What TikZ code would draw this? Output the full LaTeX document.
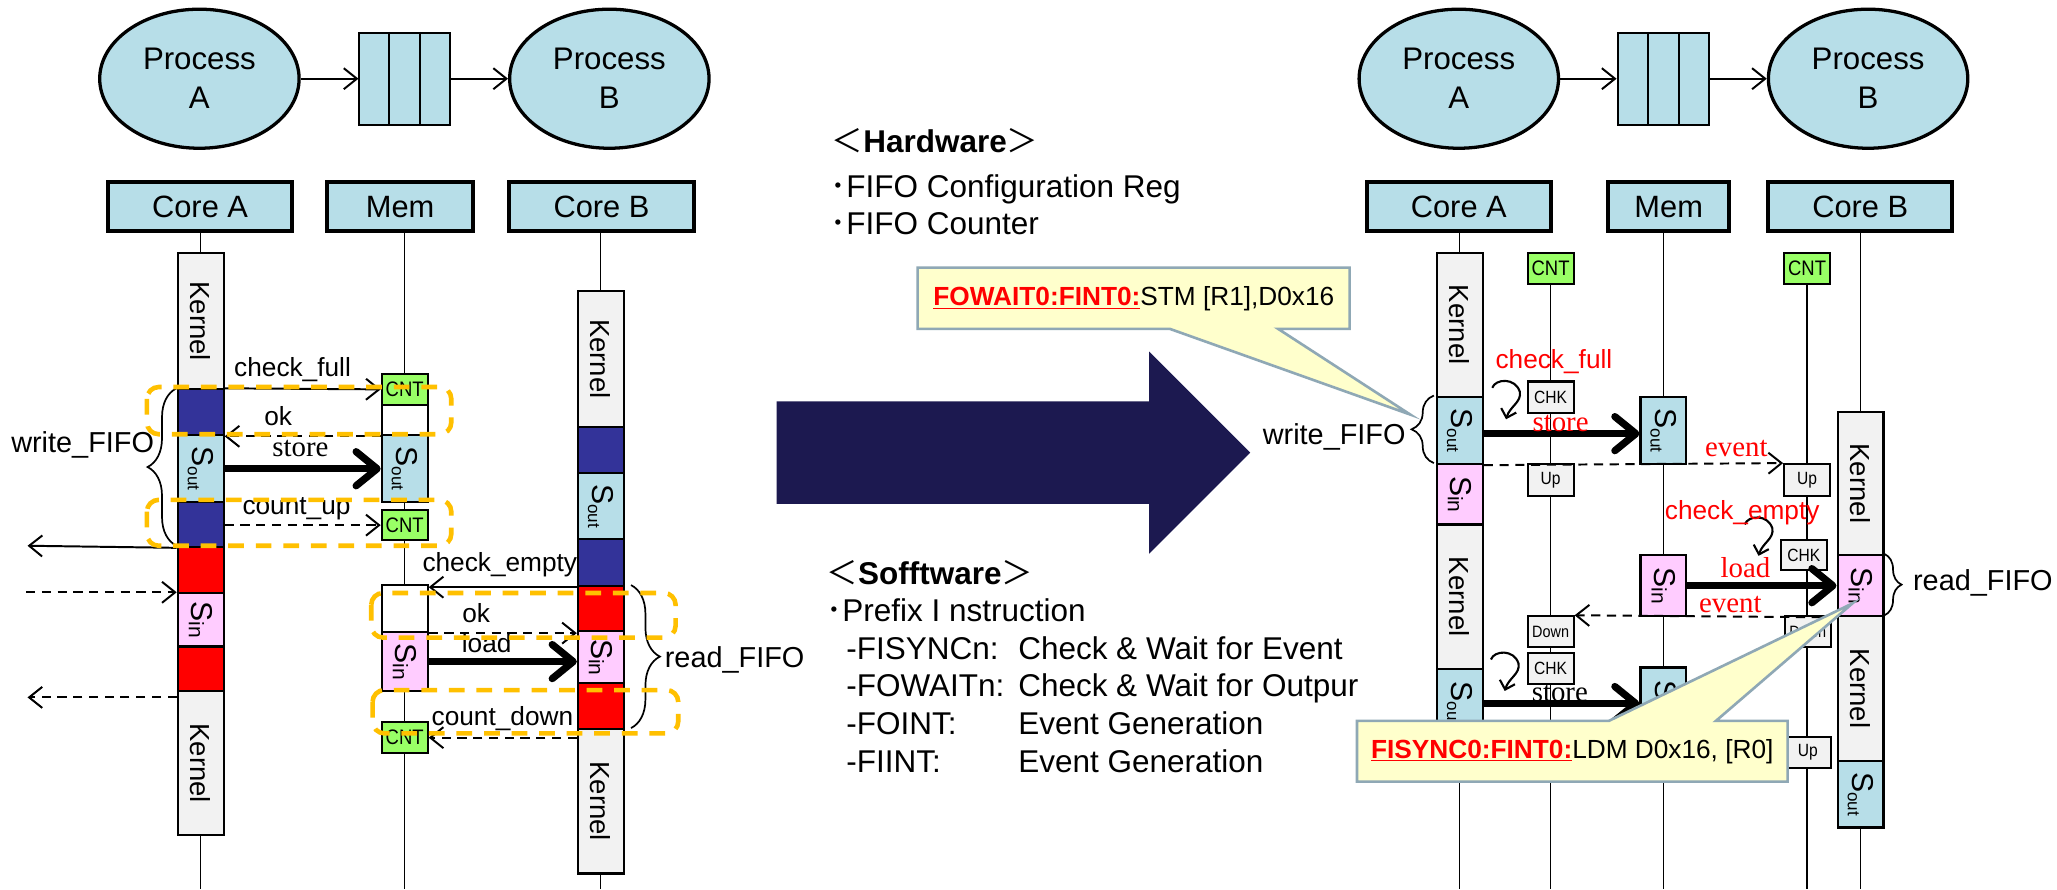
\documentclass[tikz,border=0pt]{standalone}
\usepackage{fontspec}
\setmainfont{Liberation Sans}
\newfontfamily\serifface{Liberation Serif}
\newfontfamily\cjkface{Noto Sans CJK JP}
\usetikzlibrary{arrows.meta,decorations.pathreplacing,calc,shapes.geometric}

\definecolor{lblue}{RGB}{183,222,232}
\definecolor{kgray}{RGB}{242,242,242}
\definecolor{dblue}{RGB}{51,51,153}
\definecolor{pinkin}{RGB}{255,204,255}
\definecolor{cntgreen}{RGB}{153,255,102}
\definecolor{orng}{RGB}{255,192,0}
\definecolor{navy}{RGB}{28,25,80}
\definecolor{callfill}{RGB}{255,255,204}
\definecolor{callline}{RGB}{143,168,181}

\newcommand{\kerneltext}{\rotatebox{-90}{Kernel}}
\newcommand{\souttext}{\rotatebox{-90}{\fontsize{23}{23}\selectfont S\raisebox{-3.5pt}{\fontsize{13}{13}\selectfont out}}}
\newcommand{\sintext}{\rotatebox{-90}{\fontsize{23}{23}\selectfont S\raisebox{-2pt}{\fontsize{16}{16}\selectfont in}}}
\newcommand{\narrowtext}[1]{\scalebox{0.88}[1]{#1}}
% small self-call arrow drawn at an offset
\newcommand{\turnarrow}[2]{\draw[turn,shift={(#1,#2)}] (0.5,6) .. controls (3,-1) and (18,-2) .. (21.5,9) .. controls (23,17) and (14,20) .. (11,30);}

\begin{document}
\begin{tikzpicture}[x=1pt,y=-1pt,
  every node/.style={inner sep=0pt},
  proc/.style={ellipse, draw, line width=2.5pt, fill=lblue, minimum width=152pt, minimum height=106pt, align=center, font=\fontsize{23.8}{29.7}\selectfont},
  queue/.style={draw, line width=1.5pt, fill=lblue, minimum width=69pt, minimum height=70pt},
  corebox/.style={draw, line width=3pt, fill=lblue, minimum height=37pt, font=\fontsize{23.5}{27}\selectfont},
  seg/.style={draw, line width=1.6pt, minimum width=35pt, anchor=north},
  kern/.style={seg, fill=kgray, font=\fontsize{21}{21}\selectfont},
  sout/.style={seg, fill=lblue},
  sin/.style={seg, fill=pinkin},
  blk/.style={seg, fill=dblue},
  redblk/.style={seg, fill=red},
  whiteblk/.style={seg, fill=white},
  tag/.style={draw, line width=1.6pt, minimum width=35pt, minimum height=24pt, anchor=north, fill=kgray, font=\fontsize{13.5}{13.5}\selectfont},
  cnt/.style={tag, fill=cntgreen, font=\fontsize{16}{16}\selectfont},
  lifeline/.style={line width=1pt},
  msg/.style={line width=1.5pt, -{Straight Barb[length=10pt,width=16pt]}},
  dmsg/.style={msg, dash pattern=on 7pt off 5pt},
  bigmsg/.style={line width=5.5pt, -{Straight Barb[length=16pt,width=26pt,round]}},
  turn/.style={line width=1.6pt, -{Straight Barb[length=6pt,width=12pt]}},
  lbl/.style={font=\fontsize{20}{20}\selectfont},
  serlbl/.style={font=\serifface\fontsize{22}{22}\selectfont},
  biglbl/.style={font=\fontsize{22}{22}\selectfont},
  orangebox/.style={draw=orng, line width=3.5pt, dash pattern=on 12pt off 9pt, rounded corners=9pt},
  curly/.style={decorate, line width=1.3pt},
  mid/.style={anchor=base west, font=\fontsize{24}{24}\selectfont},
  callout/.style={fill=callfill, draw=callline, line width=2pt},
  calltext/.style={font=\fontsize{20}{20}\selectfont}]

\useasboundingbox (0,0) rectangle (1568,678);
\fill[white] (0,0) rectangle (1568,678);

%% ================= left panel =================
\node[proc] (pAL) at (152,60) {Process\\A};
\node[queue] (qL) at (308.5,60) {};
\node[proc] (pBL) at (464.5,60) {Process\\B};
\draw[line width=1.5pt] ($(qL.north west)!1/3!(qL.north east)$) -- ($(qL.south west)!1/3!(qL.south east)$);
\draw[line width=1.5pt] ($(qL.north west)!2/3!(qL.north east)$) -- ($(qL.south west)!2/3!(qL.south east)$);
\draw[msg] (pAL) -- (qL);
\draw[msg] (qL) -- (pBL);

\node[corebox, minimum width=140pt] (cAL) at (152.5,157.5) {Core A};
\node[corebox, minimum width=111pt] (mL) at (305,157.5) {Mem};
\node[corebox, minimum width=141pt] (cBL) at (458.5,157.5) {Core B};

\coordinate (botAL) at (153,678);
\coordinate (botML) at (308.5,678);
\coordinate (botBL) at (458,678);
\draw[lifeline] (botML |- mL.south) -- (botML);

% Core A activity
\node[kern, minimum height=104pt] (kA1) at (153,192) {\kerneltext};
\node[blk, minimum height=35pt] (bA1) at (153,296) {};
\node[sout, minimum height=51pt] (sA1) at (153,331) {\souttext};
\node[blk, minimum height=34pt] (bA2) at (153,382) {};
\node[redblk, minimum height=35.5pt] (rA1) at (153,416) {};
\node[sin, minimum height=40.5pt] (iA1) at (153,451.5) {\sintext};
\node[redblk, minimum height=34pt] (rA2) at (153,492) {};
\node[kern, minimum height=110pt] (kA2) at (153,526) {\kerneltext};
\draw[lifeline] (kA1.north |- cAL.south) -- (kA1.north);
\draw[lifeline] (kA2.south) -- (botAL);

% Core B activity
\node[kern, minimum height=103.5pt] (kB1) at (458,221) {\kerneltext};
\node[blk, minimum height=35.5pt] (bB1) at (458,324.5) {};
\node[sout, minimum height=50pt] (sB1) at (458,360) {\souttext};
\node[blk, minimum height=36pt] (bB2) at (458,410) {};
\node[redblk, minimum height=34.5pt] (rB1) at (458,446) {};
\node[sin, minimum height=39.5pt] (iB1) at (458,480.5) {\sintext};
\node[redblk, minimum height=35pt] (rB2) at (458,520) {};
\node[kern, minimum height=110pt] (kB2) at (458,555) {\kerneltext};
\draw[lifeline] (kB1.north |- cBL.south) -- (kB1.north);
\draw[lifeline] (kB2.south) -- (botBL);

% Mem activity
\node[cnt] (cnt1) at (308.5,284) {\narrowtext{CNT}};
\node[whiteblk, minimum height=23pt] (wM1) at (308.5,308) {};
\node[sout, minimum height=51pt] (sM1) at (308.5,331) {\souttext};
\node[cnt, minimum height=23pt] (cnt2) at (308.5,388) {\narrowtext{CNT}};
\node[whiteblk, minimum height=36pt] (wM2) at (308.5,445) {};
\node[sin, minimum height=45pt] (iM1) at (308.5,481) {\sintext};
\node[cnt] (cnt3) at (308.5,549.5) {\narrowtext{CNT}};

% messages
\coordinate (outA) at (21,416);
\coordinate (inA) at (20,451.5);
\coordinate (outA2) at (21,531.6);
\draw[msg] (bA1.north east) -- (cnt1.west);
\draw[dmsg] (wM1.south west) -- (bA1.south east);
\draw[bigmsg] (sA1.east) -- (sM1.west);
\draw[dmsg] (cnt2.west -| bA2.east) -- (cnt2.west);
\draw[msg] (bA2.south west) -- (outA);
\draw[dmsg] (inA) -- (iA1.north west);
\draw[dmsg] ([yshift=-5.6pt]kA2.north west) -- (outA2);
\draw[msg] (bB2.south west) -- (bB2.south west -| wM2.east);
\draw[dmsg] (wM2.south east) -- (wM2.south east -| rB1.west);
\draw[bigmsg] (iM1.east) -- (iM1.east -| iB1.west);
\draw[dmsg] (cnt3.east -| rB2.west) -- (cnt3.east);

\node[lbl] (lcf) at (223,282) {check\_full};
\node[lbl] (lok1) at (212,317) {ok};
\node[serlbl] (lst) at (229,342) {store};
\node[lbl] (lcu) at (226,387.5) {count\_up};
\node[lbl] (lce) at (381,430.6) {check\_empty};
\node[lbl] (lok2) at (363,467) {ok};
\node[lbl] (lld) at (371,490) {load};
\node[lbl] (lcd) at (383,548) {count\_down};

% groupings
\coordinate (wfTop) at (134.5,296);
\coordinate (wfBot) at (134.5,416);
\draw[curly, decoration={brace, amplitude=22pt}] (wfBot) -- (wfTop);
\node[biglbl] (lwf) at (63,339) {write\_FIFO};
\coordinate (rfTop) at (481,446);
\coordinate (rfBot) at (481,555);
\draw[curly, decoration={brace, amplitude=22pt}] (rfTop) -- (rfBot);
\node[biglbl] (lrf) at (560,503) {read\_FIFO};

\draw[orangebox] (112,295) rectangle (344,331);
\draw[orangebox] (112,381) rectangle (344,416);
\draw[orangebox] (283,452) rectangle (515,486);
\draw[orangebox] (284,526) rectangle (517,559);

%% ================= middle =================
\fill[navy] (592,306) -- (876,306) -- (876,268) -- (953,345) -- (876,422) -- (876,384) -- (592,384) -- cycle;

\node[mid] (hw) at (634,116.6) {{\cjkface ＜}\textbf{Hardware}{\cjkface ＞}};
\node[mid] (hw1) at (633,150.6) {{\cjkface ･}FIFO Configuration Reg};
\node[mid] (hw2) at (633,178.6) {{\cjkface ･}FIFO Counter};
\node[mid] (sw) at (630,445.6) {{\cjkface ＜}\textbf{Sofftware}{\cjkface ＞}};
\node[mid] (sw1) at (630,473.6) {{\cjkface ･}Prefix I nstruction};
\node[mid] (sw2) at (645,502.6) {\makebox[131pt][l]{-FISYNCn:}Check \& Wait for Event};
\node[mid] (sw3) at (645,530.6) {\makebox[131pt][l]{-FOWAITn:}Check \& Wait for Outpur};
\node[mid] (sw4) at (645,559.6) {\makebox[131pt][l]{-FOINT:}Event Generation};
\node[mid] (sw5) at (645,588.6) {\makebox[131pt][l]{-FIINT:}Event Generation};

%% ================= right panel =================
\node[proc] (pAR) at (1112,60) {Process\\A};
\node[queue, minimum width=70pt] (qR) at (1268,60) {};
\node[proc] (pBR) at (1424,60) {Process\\B};
\draw[line width=1.5pt] ($(qR.north west)!1/3!(qR.north east)$) -- ($(qR.south west)!1/3!(qR.south east)$);
\draw[line width=1.5pt] ($(qR.north west)!2/3!(qR.north east)$) -- ($(qR.south west)!2/3!(qR.south east)$);
\draw[msg] (pAR) -- (qR);
\draw[msg] (qR) -- (pBR);

\node[corebox, minimum width=140pt] (cAR) at (1112,157.5) {Core A};
\node[corebox, minimum width=92pt] (mR) at (1272,157.5) {Mem};
\node[corebox, minimum width=140pt] (cBR) at (1418,157.5) {Core B};

\coordinate (botAR) at (1112.75,678);
\coordinate (botMR) at (1268,678);
\coordinate (botBR) at (1418.2,678);
\coordinate (botCA) at (1182,678);
\coordinate (botCB) at (1377.5,678);
\draw[lifeline] (botMR |- mR.south) -- (botMR);

% counters
\node[cnt] (RcA) at (1182,192) {\narrowtext{CNT}};
\node[cnt] (RcB) at (1377.5,192) {\narrowtext{CNT}};
\draw[lifeline] (RcA.south) -- (botCA);
\draw[lifeline] (RcB.south) -- (botCB);
\node[tag] (chkA1) at (1182,290) {\narrowtext{CHK}};
\node[tag] (upA1) at (1182,353) {\narrowtext{Up}};
\node[tag, minimum height=23.4pt, font=\fontsize{12.5}{12.5}\selectfont] (downA1) at (1182,469) {\narrowtext{Down}};
\node[tag, minimum height=23.4pt] (chkA2) at (1182,497) {\narrowtext{CHK}};
\node[tag] (upB1) at (1377.5,353) {\narrowtext{Up}};
\node[tag, minimum height=23pt] (chkB1) at (1375,411) {\narrowtext{CHK}};
\node[tag, minimum height=23.4pt, font=\fontsize{12.5}{12.5}\selectfont] (downB1) at (1378,469) {\narrowtext{Down}};
\node[tag, minimum height=23.3pt] (upB2) at (1378,561) {\narrowtext{Up}};

% Core A activity
\node[kern, minimum height=109.5pt] (RkA1) at (1112.75,192) {\kerneltext};
\node[sout, minimum height=51.5pt] (RsA1) at (1112.75,301.5) {\souttext};
\node[sin, minimum height=46pt] (RiA1) at (1112.75,353) {\sintext};
\node[kern, minimum height=110pt] (RkA2) at (1112.75,399) {\kerneltext};
\node[sout, minimum height=53pt] (RsA2) at (1112.75,509) {\souttext};
\draw[lifeline] (RkA1.north |- cAR.south) -- (RkA1.north);
\draw[lifeline] (RsA2.south) -- (botAR);

% Mem activity
\node[sout, minimum height=51.5pt] (RsM1) at (1268,301.5) {\souttext};
\node[sin, minimum height=46.7pt] (RiM1) at (1268,422.3) {\sintext};
\node[sout, minimum height=54pt] (RsM2) at (1268,508) {\souttext};

% Core B activity
\node[kern, minimum height=109.3pt] (RkB1) at (1418.2,313) {\kerneltext};
\node[sin, minimum height=46.7pt] (RiB1) at (1418.2,422.3) {\sintext};
\node[kern, minimum height=110pt] (RkB2) at (1418.2,469) {\kerneltext};
\node[sout, minimum height=51pt] (RsB1) at (1418.2,579) {\souttext};
\draw[lifeline] (RkB1.north |- cBR.south) -- (RkB1.north);
\draw[lifeline] (RsB1.south) -- (botBR);

% messages
\draw[bigmsg] ([yshift=-2.5pt]RsA1.east) -- ([yshift=-2.5pt]RsA1.east -| RsM1.west);
\draw[dmsg] (RsA1.south east) -- (upB1.north west);
\draw[bigmsg] (RiM1.east) -- (RiB1.west);
\draw[dmsg] (RiB1.south west) -- (downA1.north east);
\draw[bigmsg] (RsA2.east) -- (RsA2.east -| RsM2.west);

\turnarrow{1137}{289.6}
\turnarrow{1329.5}{393.7}
\turnarrow{1136}{496.7}

\node[lbl, text=red] (rcf) at (1184.5,276) {check\_full};
\node[serlbl, text=red] (rst1) at (1189.6,322.6) {store};
\node[serlbl, text=red] (rev1) at (1323.5,341.6) {event};
\node[lbl, text=red] (rce) at (1328,391) {check\_empty};
\node[serlbl, text=red] (rld) at (1330.5,433) {load};
\node[serlbl, text=red] (rev2) at (1319,461) {event};
\node[serlbl] (rst2) at (1189,529) {store};

\coordinate (rwTop) at (1093,301.5);
\coordinate (rwBot) at (1093,353);
\draw[curly, decoration={brace, amplitude=17pt}] (rwBot) -- (rwTop);
\node[biglbl] (rwf) at (1017,332.8) {write\_FIFO};
\coordinate (rrTop) at (1436.5,422.3);
\coordinate (rrBot) at (1436.5,469);
\draw[curly, decoration={brace, amplitude=13pt}] (rrTop) -- (rrBot);
\node[biglbl] (rrf) at (1511.5,444.6) {read\_FIFO};

% instruction callouts
\draw[callout] (699.5,204) -- (1028.8,204) -- (1028.8,250.7) -- (974.3,250.7) -- (1075,316) -- (891.8,250.7) -- (699.5,250.7) -- cycle;
\node[calltext] (c1t) at (864.3,228) {\textcolor{red}{\underline{\textbf{FOWAIT0:FINT0:}}}STM [R1],D0x16};
\draw[callout] (1034.4,549.5) -- (1226.4,549.5) -- (1412,460) -- (1308,549.5) -- (1362.6,549.5) -- (1362.6,595.8) -- (1034.4,595.8) -- cycle;
\node[calltext] (c2t) at (1198.5,572.9) {\textcolor{red}{\underline{\textbf{FISYNC0:FINT0:}}}LDM D0x16, [R0]};
\end{tikzpicture}
\end{document}
